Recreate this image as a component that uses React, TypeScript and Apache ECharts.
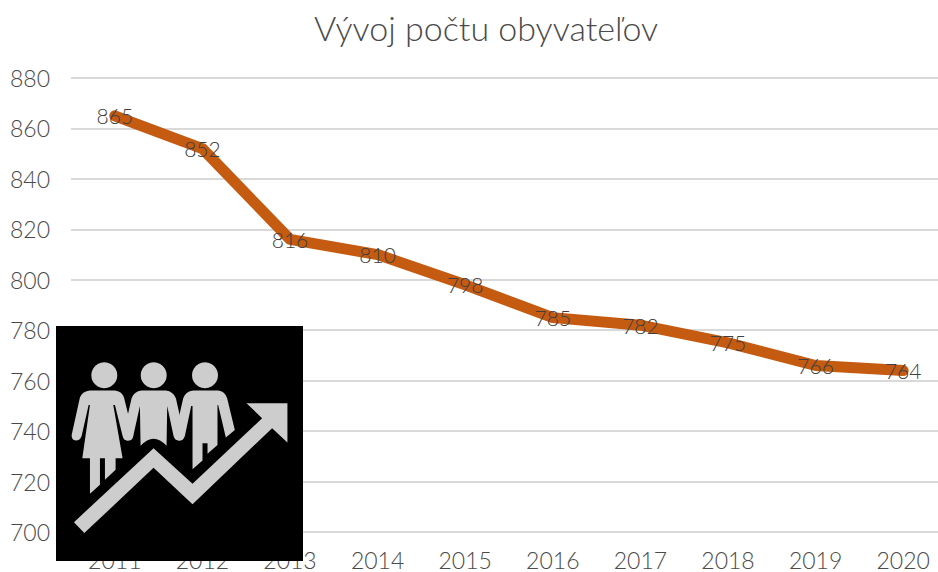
import React, { useEffect, useRef } from "react";
import * as echarts from "echarts";

const titleText = "Vývoj počtu obyvateľov";
const years = ["2011", "2012", "2013", "2014", "2015", "2016", "2017", "2018", "2019", "2020"];
const population = [865, 852, 816, 810, 798, 785, 782, 775, 766, 764];
const FONT = "Lato, 'Open Sans', sans-serif";
const TEXT = "#4a4a4a";

const arrowPath = "M72 607 L311 385 L428 492 L637 295 L590 250 L713 250 L713 368 L667 325 L428 553 L311 444 L103 640 Z";
const womanPath = "M120 212 L195 212 Q215 214 222 232 L250 345 Q250 362 235 362 Q222 362 218 348 L195 255 L190 255 L218 415 L197 415 L197 450 L165 480 L165 415 L150 415 L150 495 L120 522 L120 415 L97 415 L120 255 L116 255 L95 348 Q90 362 78 362 Q64 360 65 345 L90 232 Q98 214 120 212 Z";
const middlePath = "M275 212 L348 212 Q370 215 378 235 L403 345 Q403 362 388 362 Q375 362 371 348 L352 258 L350 378 Q311 335 272 378 L270 258 L250 348 Q245 362 232 362 Q218 360 220 345 L245 235 Q252 215 275 212 Z";
const manPath = "M430 212 L505 212 Q525 214 532 235 L555 330 L528 353 L505 255 L503 255 L503 375 L473 402 L473 370 L458 370 L458 422 L428 448 L428 258 L424 258 L405 348 Q400 362 388 362 Q372 360 375 345 L400 235 Q408 214 430 212 Z";

echarts.graphic.registerShape("iconArrow", echarts.graphic.extendPath(arrowPath, {}));
echarts.graphic.registerShape("iconWoman", echarts.graphic.extendPath(womanPath, {}));
echarts.graphic.registerShape("iconMiddle", echarts.graphic.extendPath(middlePath, {}));
echarts.graphic.registerShape("iconMan", echarts.graphic.extendPath(manPath, {}));

const ICON = "#cdcdcd";
const iconAt = { x: 50, y: 320, scaleX: 1 / 3, scaleY: 1 / 3 };
const heads = [[104.3, 375.3], [153.7, 375.3], [205, 375.3]];

export default function App() {
  const ref = useRef<HTMLDivElement>(null);
  useEffect(() => {
    const chart = echarts.init(ref.current!, null, { renderer: "svg" });
    chart.setOption({
      animation: false,
      backgroundColor: "#ffffff",
      title: {
        text: titleText,
        left: 309,
        top: 5,
        textStyle: { color: TEXT, fontFamily: FONT, fontSize: 34, fontWeight: 300 },
      },
      grid: { left: 71, top: 78, width: 876, height: 454, containLabel: false, outerBoundsMode: "none" },
      xAxis: {
        type: "category",
        data: years,
        boundaryGap: true,
        axisLine: { show: false },
        axisTick: { show: false },
        axisLabel: { color: TEXT, fontFamily: FONT, fontSize: 23, fontWeight: 300, margin: 18, interval: 0, lineHeight: 20 },
      },
      yAxis: {
        type: "value",
        min: 700,
        max: 880,
        interval: 20,
        axisLine: { show: false },
        axisTick: { show: false },
        axisLabel: { color: TEXT, fontFamily: FONT, fontSize: 23, fontWeight: 300, margin: 21 },
        splitLine: { lineStyle: { color: "#d9d9d9", width: 2 } },
      },
      series: [
        {
          type: "line",
          data: population,
          symbol: "circle",
          symbolSize: 1,
          showSymbol: true,
          itemStyle: { color: "#c55a11" },
          lineStyle: { color: "#c55a11", width: 11, cap: "round", join: "round" },
          label: {
            show: true,
            position: "inside",
            color: "#404040",
            fontFamily: FONT,
            fontSize: 21,
            fontWeight: 300,
          },
        },
      ],
      graphic: [
        { type: "rect", z: 100, shape: { x: 56, y: 326, width: 247, height: 235 }, style: { fill: "#000000" } },
        { type: "iconArrow", z: 101, ...iconAt, style: { fill: ICON } },
        { type: "iconWoman", z: 101, ...iconAt, style: { fill: ICON } },
        { type: "iconMiddle", z: 101, ...iconAt, style: { fill: ICON } },
        { type: "iconMan", z: 101, ...iconAt, style: { fill: ICON } },
        ...heads.map(([cx, cy]) => ({ type: "circle", z: 101, shape: { cx, cy, r: 13 }, style: { fill: ICON } })),
      ],
    });
    return () => chart.dispose();
  }, []);
  return <div ref={ref} style={{ position: "absolute", left: 0, top: 0, width: 938, height: 572 }} />;
}
